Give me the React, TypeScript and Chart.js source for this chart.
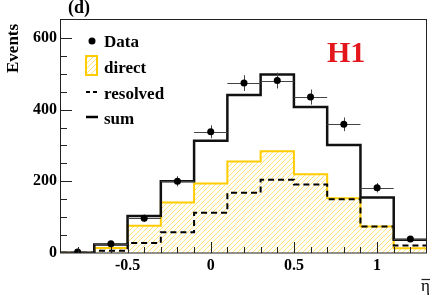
import React, { useEffect, useRef } from "react";
import { Chart, registerables } from "chart.js";

Chart.register(...registerables);

// ---- data ----
const binEdges = [-0.9, -0.7, -0.5, -0.3, -0.1, 0.1, 0.3, 0.5, 0.7, 0.9, 1.1, 1.3];
const binCenters = [-0.8, -0.6, -0.4, -0.2, 0, 0.2, 0.4, 0.6, 0.8, 1.0, 1.2];
const dataValues = [3, 26, 97, 200, 338, 474, 481, 435, 359, 182, 39];
const dataErrors = [2, 5, 10, 14, 18, 22, 22, 21, 19, 13, 6];
const directValues = [1, 14, 76, 141, 194, 255, 284, 220, 153, 74, 13];
const resolvedValues = [0.5, 6, 28, 58, 112, 168, 204, 191, 150, 74, 21];
const sumValues = [1, 24, 103, 200, 313, 441, 498, 407, 301, 155, 37];
const xMajorTicks = [-0.5, 0, 0.5, 1];
const xTickLabels = ["-0.5", "0", "0.5", "1"];
const yMajorTicks = [0, 200, 400, 600];
const yTickLabels = ["0", "200", "400", "600"];
const legendLabels = ["Data", "direct", "resolved", "sum"];

const SERIF = '"Liberation Serif", "DejaVu Serif", serif';
const YELLOW = "#FFCC00";

function histPoints(values: number[]) {
  return binEdges.map((e, i) => ({ x: e, y: values[Math.min(i, values.length - 1)] }));
}

function makeHatch(): CanvasPattern | string {
  const s = 5;
  const c = document.createElement("canvas");
  c.width = s;
  c.height = s;
  const g = c.getContext("2d");
  if (!g) return "rgba(255,204,0,0.3)";
  g.strokeStyle = "rgba(255,204,0,0.55)";
  g.lineWidth = 1;
  g.beginPath();
  g.moveTo(0, s);
  g.lineTo(s, 0);
  g.moveTo(-1, 1);
  g.lineTo(1, -1);
  g.moveTo(s - 1, s + 1);
  g.lineTo(s + 1, s - 1);
  g.stroke();
  const p = g.createPattern(c, "repeat");
  return p || "rgba(255,204,0,0.3)";
}

export default function App() {
  const ref = useRef<HTMLCanvasElement | null>(null);

  useEffect(() => {
    const canvas = ref.current;
    if (!canvas) return;
    const hatch = makeHatch();

    const decor = {
      id: "decor",
      beforeDatasetDraw(chart: any, args: any) {
        if (args.index !== 0) return;
        const ctx = chart.ctx;
        const xs = chart.scales.x;
        const ys = chart.scales.y;
        ctx.save();
        ctx.strokeStyle = "#444";
        ctx.lineWidth = 1;
        binCenters.forEach((c, i) => {
          const px = Math.round(xs.getPixelForValue(c)) + 0.5;
          const py = Math.round(ys.getPixelForValue(dataValues[i])) + 0.5;
          const x0 = xs.getPixelForValue(binEdges[i]);
          const x1 = xs.getPixelForValue(binEdges[i + 1]);
          const yt = ys.getPixelForValue(dataValues[i] + dataErrors[i]);
          const yb = ys.getPixelForValue(Math.max(0, dataValues[i] - dataErrors[i]));
          ctx.beginPath();
          ctx.moveTo(x0, py);
          ctx.lineTo(x1, py);
          ctx.moveTo(px, yt);
          ctx.lineTo(px, yb);
          ctx.stroke();
        });
        ctx.restore();
      },
      afterDraw(chart: any) {
        const ctx = chart.ctx;
        const a = chart.chartArea;
        const xs = chart.scales.x;
        const ys = chart.scales.y;
        ctx.save();
        // frame
        ctx.strokeStyle = "#222";
        ctx.lineWidth = 1;
        ctx.strokeRect(a.left - 0.5, a.top - 0.5, a.right - a.left, a.bottom - a.top + 0.5);
        // x ticks (inward)
        ctx.beginPath();
        xs.ticks.forEach((t: any) => {
          const v = t.value;
          if (v <= -0.9 + 1e-9 || v >= 1.3 - 1e-9) return;
          const major = xMajorTicks.some((m) => Math.abs(m - v) < 1e-6);
          const len = major ? 11 : 6;
          const px = Math.round(xs.getPixelForValue(v)) + 0.5;
          ctx.moveTo(px, a.bottom);
          ctx.lineTo(px, a.bottom - len);
        });
        ys.ticks.forEach((t: any) => {
          const v = t.value;
          if (v <= 0 || v >= 650) return;
          const major = yMajorTicks.indexOf(v) >= 0;
          const len = major ? 11 : 6;
          const py = Math.round(ys.getPixelForValue(v)) + 0.5;
          ctx.moveTo(a.left, py);
          ctx.lineTo(a.left + len, py);
        });
        ctx.stroke();

        // panel label
        ctx.fillStyle = "#000";
        ctx.font = `bold 18px ${SERIF}`;
        ctx.textAlign = "left";
        ctx.textBaseline = "alphabetic";
        ctx.fillText("(d)", 68, 13);

        // y title
        ctx.save();
        ctx.translate(18, 73);
        ctx.rotate(-Math.PI / 2);
        ctx.font = `bold 17px ${SERIF}`;
        ctx.fillText("Events", 0, 0);
        ctx.restore();

        // x title: eta bar
        ctx.font = `17px ${SERIF}`;
        ctx.fillText("η", 421, 291);
        ctx.beginPath();
        ctx.lineWidth = 1.2;
        ctx.moveTo(421.5, 279.5);
        ctx.lineTo(430, 279.5);
        ctx.stroke();

        // H1
        ctx.fillStyle = "#E3171B";
        ctx.font = `bold 30px ${SERIF}`;
        ctx.fillText("H1", 327, 62);

        // legend
        ctx.fillStyle = "#000";
        ctx.font = `bold 17px ${SERIF}`;
        const tx = 104;
        const baselines = [47, 73, 99, 124];
        legendLabels.forEach((l, i) => ctx.fillText(l, tx, baselines[i]));
        // Data marker
        ctx.beginPath();
        ctx.arc(92, 41, 3.5, 0, Math.PI * 2);
        ctx.fill();
        // direct box
        ctx.fillStyle = hatch as any;
        ctx.fillRect(86, 56, 11, 19);
        ctx.strokeStyle = YELLOW;
        ctx.lineWidth = 2;
        ctx.strokeRect(86, 56, 11, 19);
        // resolved
        ctx.strokeStyle = "#000";
        ctx.setLineDash([4, 3]);
        ctx.beginPath();
        ctx.moveTo(86, 92);
        ctx.lineTo(98, 92);
        ctx.stroke();
        ctx.setLineDash([]);
        // sum
        ctx.lineWidth = 2.5;
        ctx.beginPath();
        ctx.moveTo(86, 117);
        ctx.lineTo(98, 117);
        ctx.stroke();
        ctx.restore();
      },
    };

    const chart = new Chart(canvas, {
      type: "line",
      data: {
        datasets: [
          {
            type: "scatter",
            label: legendLabels[0],
            data: binCenters.map((c, i) => ({ x: c, y: dataValues[i] })),
            pointRadius: 3.5,
            pointBackgroundColor: "#000",
            pointBorderColor: "#000",
            pointBorderWidth: 0,
            showLine: false,
          } as any,
          {
            label: legendLabels[3],
            data: histPoints(sumValues),
            stepped: true,
            borderColor: "#111",
            borderWidth: 2.5,
            pointRadius: 0,
            fill: false,
          },
          {
            label: legendLabels[2],
            data: histPoints(resolvedValues),
            stepped: true,
            borderColor: "#000",
            borderWidth: 2,
            borderDash: [6, 4],
            pointRadius: 0,
            fill: false,
          },
          {
            label: legendLabels[1],
            data: histPoints(directValues),
            stepped: true,
            borderColor: YELLOW,
            borderWidth: 2,
            pointRadius: 0,
            fill: "origin",
            backgroundColor: hatch as any,
          },
        ],
      },
      options: {
        responsive: false,
        animation: false,
        events: [],
        layout: { padding: { top: 20, right: 1, left: 0, bottom: 0 } },
        plugins: {
          legend: { display: false },
          tooltip: { enabled: false },
          title: { display: false },
        },
        scales: {
          x: {
            type: "linear",
            min: -0.9,
            max: 1.3,
            grid: { display: false, drawTicks: false },
            border: { display: false },
            afterFit: (s: any) => {
              s.height = 49;
            },
            ticks: {
              stepSize: 0.1,
              autoSkip: false,
              maxRotation: 0,
              padding: 3,
              color: "#000",
              font: { family: SERIF, size: 16, weight: "bold" },
              callback: (v: any) => {
                const idx = xMajorTicks.findIndex((m) => Math.abs(m - Number(v)) < 1e-6);
                return idx >= 0 ? xTickLabels[idx] : "";
              },
            },
          },
          y: {
            type: "linear",
            min: 0,
            max: 650,
            grid: { display: false, drawTicks: false },
            border: { display: false },
            afterFit: (s: any) => {
              s.width = 61;
            },
            ticks: {
              stepSize: 50,
              autoSkip: false,
              padding: 4,
              color: "#000",
              font: { family: SERIF, size: 16, weight: "bold" },
              callback: (v: any) => {
                const idx = yMajorTicks.indexOf(Number(v));
                return idx >= 0 ? yTickLabels[idx] : "";
              },
            },
          },
        },
      },
      plugins: [decor],
    });

    return () => chart.destroy();
  }, []);

  return (
    <div style={{ position: "absolute", left: 0, top: 0, width: 431, height: 302, background: "#fff" }}>
      <canvas ref={ref} width={431} height={302} />
    </div>
  );
}
